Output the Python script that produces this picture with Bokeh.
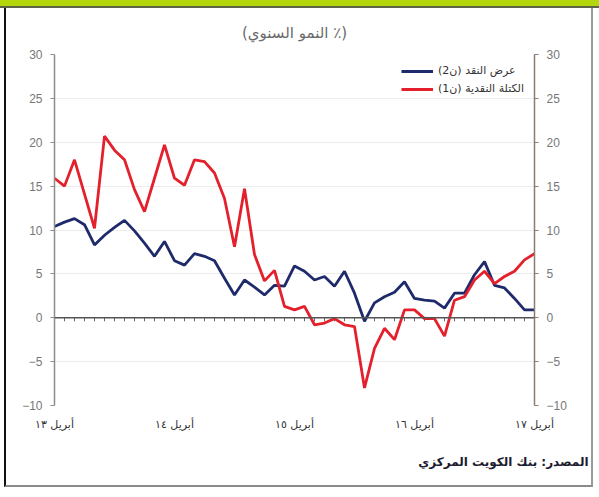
from bokeh.plotting import figure
from bokeh.models import (Range1d, LinearAxis, FixedTicker, Span, Legend, LegendItem,
                          Title, Div, ColumnDataSource)
from bokeh.layouts import column
from bokeh.embed import file_html
from bokeh.resources import INLINE

# ---- data (monthly, April 2013 .. April 2017) ----
months = list(range(49))
m2_growth = [10.4, 10.9, 11.3, 10.6, 8.3, 9.4, 10.3, 11.1, 9.9, 8.5,
             7.0, 8.7, 6.5, 6.0, 7.3, 7.0, 6.5, 4.5, 2.6, 4.3,
             3.5, 2.6, 3.7, 3.6, 5.9, 5.3, 4.3, 4.7, 3.6, 5.3,
             2.8, -0.4, 1.7, 2.4, 2.9, 4.1, 2.2, 2.0, 1.9, 1.1,
             2.8, 2.8, 4.9, 6.4, 3.7, 3.4, 2.2, 0.9, 0.9]
m1_growth = [15.9, 15.0, 18.0, 14.1, 10.2, 20.7, 19.1, 18.0, 14.6, 12.1,
             15.9, 19.7, 15.9, 15.1, 18.0, 17.8, 16.5, 13.6, 8.1, 14.7,
             7.2, 4.2, 5.4, 1.3, 0.9, 1.3, -0.8, -0.6, -0.1, -0.8,
             -1.0, -8.0, -3.5, -1.2, -2.5, 0.9, 0.9, -0.1, -0.1, -2.1,
             2.0, 2.4, 4.3, 5.3, 3.9, 4.7, 5.3, 6.6, 7.3]
series_names = ["عرض النقد (ن2)", "الكتلة النقدية (ن1)"]
year_ticks = [0, 12, 24, 36, 48]
year_labels = ["أبريل ١٣", "أبريل ١٤", "أبريل ١٥", "أبريل ١٦", "أبريل ١٧"]
y_ticks = [-10, -5, 0, 5, 10, 15, 20, 25, 30]
title_text = "(النمو السنوي ٪)"
source_text = "المصدر: بنك الكويت المركزي"

AR_FONT = "DejaVu Sans"
NUM_FONT = "Liberation Sans"

p = figure(width=589, height=479, output_backend="svg", toolbar_location=None,
           x_range=Range1d(0, 48), y_range=Range1d(-10, 30),
           min_border_left=48, min_border_right=61, min_border_top=46, min_border_bottom=82,
           background_fill_color="white", border_fill_color="white", outline_line_color=None)
p.margin = (0, 0, 0, 4)
p.styles = {"border-left": "2px solid #111111", "border-right": "2px solid #9a9a9a",
            "border-bottom": "2px solid #8a8a8a"}

# title
p.title.text = title_text
p.title.align = "center"
p.title.text_font = AR_FONT
p.title.text_font_size = "15px"
p.title.text_font_style = "normal"
p.title.text_color = "#6a6a6a"
p.title.standoff = 26

# axes
p.xaxis.ticker = FixedTicker(ticks=year_ticks)
p.xaxis.major_label_overrides = {t: l for t, l in zip(year_ticks, year_labels)}
p.xaxis.axis_line_color = None
p.xaxis.major_tick_line_color = None
p.xaxis.minor_tick_line_color = None
p.xaxis.major_label_text_font = AR_FONT
p.xaxis.major_label_text_font_size = "11px"
p.xaxis.major_label_text_color = "#333333"
p.xaxis.major_label_standoff = 6

p.yaxis.ticker = FixedTicker(ticks=y_ticks)
p.yaxis.axis_line_color = "#8c8c8c"
p.yaxis.axis_line_width = 1.5
p.yaxis.major_tick_line_color = "#8c8c8c"
p.yaxis.major_tick_out = 4
p.yaxis.major_tick_in = 0
p.yaxis.minor_tick_line_color = None
p.yaxis.major_label_text_font = NUM_FONT
p.yaxis.major_label_text_font_size = "12px"
p.yaxis.major_label_text_color = "#777777"
p.yaxis.major_label_standoff = 8

right_axis = LinearAxis(ticker=FixedTicker(ticks=y_ticks), axis_line_color="#8b7b70",
                        axis_line_width=1.5, major_tick_line_color="#8b7b70",
                        major_tick_out=4, major_tick_in=0, minor_tick_line_color=None,
                        major_label_text_font=NUM_FONT, major_label_text_font_size="12px",
                        major_label_text_color="#777777", major_label_standoff=8)
p.add_layout(right_axis, "right")

p.xgrid.grid_line_color = None
p.ygrid.ticker = FixedTicker(ticks=y_ticks)
p.ygrid.grid_line_color = "#ececec"
p.ygrid.grid_line_width = 1

# zero line with monthly tick marks
p.add_layout(Span(location=0, dimension="width", line_color="#555555", line_width=1.3))
tick_src = ColumnDataSource(dict(x=months, y0=[0] * len(months), y1=[-0.4] * len(months)))
p.segment(x0="x", y0="y0", x1="x", y1="y1", source=tick_src, line_color="#666666", line_width=1)

# series
src = ColumnDataSource(dict(m=months, m2=m2_growth, m1=m1_growth))
r_m2 = p.line("m", "m2", source=src, line_color="#1f2a6b", line_width=2.8)
r_m1 = p.line("m", "m1", source=src, line_color="#e3202c", line_width=2.8)

legend = Legend(items=[LegendItem(label=series_names[0], renderers=[r_m2]),
                       LegendItem(label=series_names[1], renderers=[r_m1])],
                location="top_right", margin=10, padding=4, spacing=5,
                glyph_width=32, glyph_height=12, label_height=12,
                label_text_font=AR_FONT, label_text_font_size="11px",
                label_text_color="#333333", background_fill_alpha=0,
                border_line_color=None)
p.add_layout(legend)

# source note
p.add_layout(Title(text=source_text, align="right", text_font=AR_FONT,
                   text_font_size="12px", text_font_style="bold",
                   text_color="#1c1c30", standoff=38, offset=-54), "below")

bar = Div(text="", width=599, height=8, margin=(0, 0, 0, 0),
          styles={"background-color": "#b3d60c", "border-bottom": "2px solid #5f6448"})

layout = column(bar, p)
open("out.html", "w").write(file_html(layout, INLINE))
